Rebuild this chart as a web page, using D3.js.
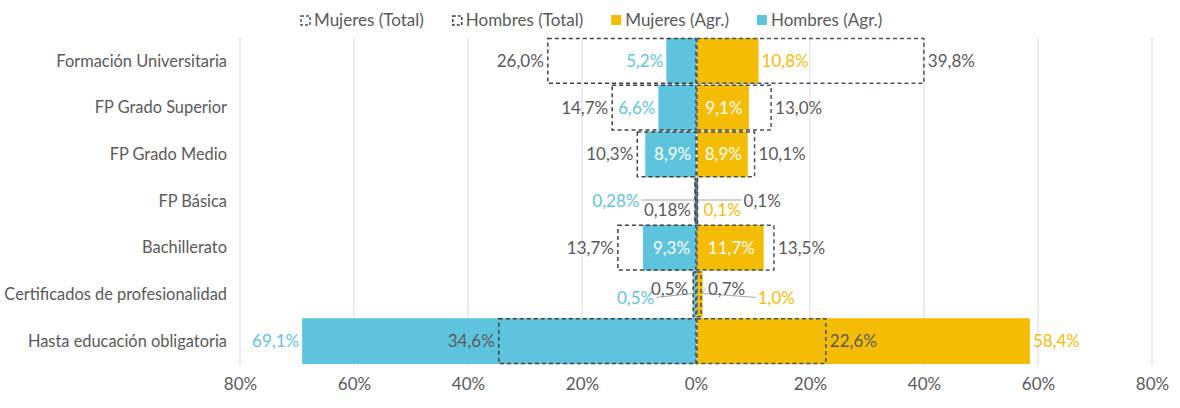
<!DOCTYPE html>
<html>
<head>
<meta charset="utf-8">
<script src="https://cdn.jsdelivr.net/npm/d3@7"></script>
<style>
  body { margin: 0; background: #fff; }
  text { font-family: Lato, "Open Sans", sans-serif; }
</style>
</head>
<body>
<svg width="1180" height="408"></svg>
<script>
// data
var categories = ["Formación Universitaria", "FP Grado Superior", "FP Grado Medio", "FP Básica",
                  "Bachillerato", "Certificados de profesionalidad", "Hasta educación obligatoria"];
var hombresAgr = [5.2, 6.6, 8.9, 0.28, 9.3, 0.5, 69.1];
var mujeresAgr = [10.8, 9.1, 8.9, 0.1, 11.7, 1.0, 58.4];
var hombresTotal = [26.0, 14.7, 10.3, 0.18, 13.7, 0.5, 34.6];
var mujeresTotal = [39.8, 13.0, 10.1, 0.1, 13.5, 0.7, 22.6];
var hombresAgrLabels = ["5,2%", "6,6%", "8,9%", "0,28%", "9,3%", "0,5%", "69,1%"];
var mujeresAgrLabels = ["10,8%", "9,1%", "8,9%", "0,1%", "11,7%", "1,0%", "58,4%"];
var hombresTotalLabels = ["26,0%", "14,7%", "10,3%", "0,18%", "13,7%", "0,5%", "34,6%"];
var mujeresTotalLabels = ["39,8%", "13,0%", "10,1%", "0,1%", "13,5%", "0,7%", "22,6%"];
var ticks = [-80, -60, -40, -20, 0, 20, 40, 60, 80];

// label placement (style only): inside bar or outside, plus nudges for the tiny rows
var hombresAgrInside = [false, false, true, false, true, false, false];
var mujeresAgrInside = [false, true, true, false, true, false, false];
var nudge = {
  "hA3": [-52, 0, true], "hT3": [0, 9], "mA3": [3, 9], "mT3": [42, 0, true],
  "hT5": [-1, -5], "mT5": [3, -5, true], "hA5": [-36, 4, true], "mA5": [52, 4, true]
};

var cyan = "#5EC4DE", yellow = "#F5BC06", grey = "#595959";
var navy = "#44546A", dark = "#404040";
var fs = "17px";

var svg = d3.select("svg");
var x = d3.scaleLinear().domain([-80, 80]).range([240, 1152]);
var y = d3.scaleBand().domain(categories).range([38, 364]).paddingInner(0.02);
var bh = y.bandwidth();

// gridlines
svg.append("g").selectAll("line").data(ticks).enter().append("line")
  .attr("x1", d => x(d)).attr("x2", d => x(d))
  .attr("y1", 38).attr("y2", 366)
  .attr("stroke", "#D9D9D9").attr("stroke-width", 1);

// axis
var axis = d3.axisBottom(x).tickValues(ticks).tickSize(0).tickFormat(d => Math.abs(d) + "%");
var ax = svg.append("g").attr("transform", "translate(0,375)").call(axis);
ax.select(".domain").remove();
ax.selectAll("text").attr("fill", grey).style("font-size", fs)
  .style("font-family", "Lato, sans-serif");

// category labels
svg.append("g").selectAll("text").data(categories).enter().append("text")
  .attr("x", 227).attr("y", d => y(d) + bh / 2)
  .attr("dy", "0.35em").attr("text-anchor", "end")
  .attr("fill", grey).style("font-size", "16.4px").text(d => d);

// agr bars
svg.append("g").selectAll("rect").data(hombresAgr).enter().append("rect")
  .attr("x", d => x(-d)).attr("width", d => x(0) - x(-d))
  .attr("y", (d, i) => y(categories[i])).attr("height", bh).attr("fill", cyan);
svg.append("g").selectAll("rect").data(mujeresAgr).enter().append("rect")
  .attr("x", x(0) + 1).attr("width", d => x(d) - x(0))
  .attr("y", (d, i) => y(categories[i])).attr("height", bh).attr("fill", yellow);

// total dashed boxes
svg.append("g").selectAll("rect").data(hombresTotal).enter().append("rect")
  .attr("x", d => x(-d)).attr("width", d => Math.max(x(0) - x(-d), 0.5))
  .attr("y", (d, i) => y(categories[i]) + 0.5).attr("height", bh - 1)
  .attr("fill", "none").attr("stroke", dark).attr("stroke-width", 1.5)
  .attr("stroke-dasharray", "4,3");
svg.append("g").selectAll("rect").data(mujeresTotal).enter().append("rect")
  .attr("x", x(0) + 1).attr("width", d => Math.max(x(d) - x(0), 0.5))
  .attr("y", (d, i) => y(categories[i]) + 0.5).attr("height", bh - 1)
  .attr("fill", "none").attr("stroke", navy).attr("stroke-width", 1.5)
  .attr("stroke-dasharray", "4,3");

// labels
var lbl = svg.append("g");
function addLabel(key, i, xEnd, side, txt, color, inside, barMid) {
  var cy = y(categories[i]) + bh / 2;
  var n = nudge[key + i] || [0, 0, false];
  var tx, anchor;
  if (inside) { tx = barMid; anchor = "middle"; }
  else if (side < 0) { tx = xEnd - 3 + n[0]; anchor = "end"; }
  else { tx = xEnd + 3 + n[0]; anchor = "start"; }
  var ty = cy + n[1];
  if (n[2]) {
    // leader line from label back to the zero / bar end
    var lx = side < 0 ? tx + 2 : tx - 2;
    lbl.append("line").attr("x1", lx).attr("y1", ty - 1)
      .attr("x2", xEnd).attr("y2", cy - 1)
      .attr("stroke", "#A6A6A6").attr("stroke-width", 1);
  }
  lbl.append("text").attr("x", tx).attr("y", ty).attr("dy", "0.35em")
    .attr("text-anchor", anchor).attr("fill", color)
    .style("font-size", fs).text(txt);
}
hombresAgr.forEach(function(d, i) {
  var ins = hombresAgrInside[i];
  addLabel("hA", i, x(-d), -1, hombresAgrLabels[i], ins ? "#fff" : cyan, ins, (x(-d) + x(0)) / 2 + 2);
});
mujeresAgr.forEach(function(d, i) {
  var ins = mujeresAgrInside[i];
  addLabel("mA", i, x(d) + 1, 1, mujeresAgrLabels[i], ins ? "#fff" : yellow, ins, (x(d) + x(0)) / 2 + 2);
});
hombresTotal.forEach(function(d, i) {
  addLabel("hT", i, x(-d) - 1, -1, hombresTotalLabels[i], grey, false, 0);
});
mujeresTotal.forEach(function(d, i) {
  addLabel("mT", i, x(d) + 2, 1, mujeresTotalLabels[i], grey, false, 0);
});

// legend
var legend = [
  {name: "Mujeres (Total)", type: "box", color: navy},
  {name: "Hombres (Total)", type: "box", color: dark},
  {name: "Mujeres (Agr.)", type: "fill", color: yellow},
  {name: "Hombres (Agr.)", type: "fill", color: cyan}
];
var lg = svg.append("g").attr("transform", "translate(300,20)");
var lx = 0;
legend.forEach(function(it) {
  var g = lg.append("g").attr("transform", "translate(" + lx + ",0)");
  if (it.type === "box") {
    g.append("rect").attr("x", 1).attr("y", -4).attr("width", 9).attr("height", 9)
      .attr("fill", "none").attr("stroke", it.color).attr("stroke-width", 1.5)
      .attr("stroke-dasharray", "3,2");
  } else {
    g.append("rect").attr("x", 0).attr("y", -5).attr("width", 10).attr("height", 10)
      .attr("fill", it.color);
  }
  var t = g.append("text").attr("x", 14).attr("y", 0).attr("dy", "0.35em")
    .attr("fill", grey).style("font-size", fs).text(it.name);
  lx += 14 + t.node().getComputedTextLength() + 28;
});
</script>
</body>
</html>
